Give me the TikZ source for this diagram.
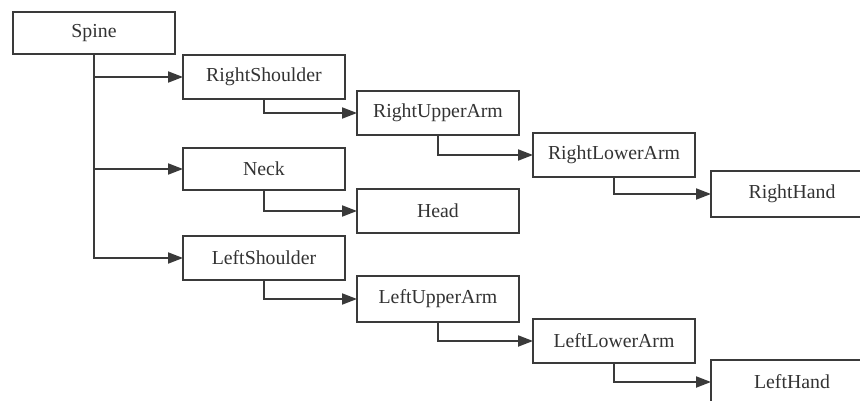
\documentclass[tikz,border=0pt]{standalone}
\usepackage{fontspec}
\setmainfont{Liberation Serif}
\usetikzlibrary{arrows.meta}
\definecolor{ink}{HTML}{3A3A3A}
\definecolor{txt}{HTML}{333333}
\tikzset{
  bone/.style={draw=ink, line width=2pt, fill=white, rectangle,
    minimum width=162pt, minimum height=44pt, inner sep=0pt,
    outer sep=0pt, text=txt, font=\fontsize{19.8}{22}\selectfont},
  link/.style={draw=ink, line width=2pt,
    -{Triangle[length=15pt,width=11pt]}},
}
\begin{document}
\begin{tikzpicture}[x=1pt,y=-1pt]
  \useasboundingbox (0,0) rectangle (860,401);
  \fill[white] (0,0) rectangle (860,401);
  \clip (0,0) rectangle (860,401);
  % bone boxes
  \node[bone, minimum height=42pt] (spine) at (94,33)  {Spine};
  \node[bone] (rsh)   at (264,77)  {RightShoulder};
  \node[bone] (rua)   at (438,113) {RightUpperArm};
  \node[bone] (rla)   at (614,155) {RightLowerArm};
  \node[bone, minimum height=46pt] (rh) at (792,194) {RightHand};
  \node[bone, minimum height=42pt] (neck) at (264,169) {Neck};
  \node[bone] (head)  at (438,211) {Head};
  \node[bone] (lsh)   at (264,258) {LeftShoulder};
  \node[bone, minimum height=46pt] (lua) at (438,299) {LeftUpperArm};
  \node[bone] (lla)   at (614,341) {LeftLowerArm};
  \node[bone] (lh)    at (792,382) {LeftHand};
  % hierarchy connectors
  \draw[link] (spine.south) |- (lsh.west);
  \draw[link] (spine.south |- rsh.west) -- (rsh.west);
  \draw[link] (spine.south |- neck.west) -- (neck.west);
  \draw[link] (rsh.south) |- (rua.west);
  \draw[link] (rua.south) |- (rla.west);
  \draw[link] (rla.south) |- (rh.west);
  \draw[link] (neck.south) |- (head.west);
  \draw[link] (lsh.south) |- (lua.west);
  \draw[link] (lua.south) |- (lla.west);
  \draw[link] (lla.south) |- (lh.west);
\end{tikzpicture}
\end{document}
